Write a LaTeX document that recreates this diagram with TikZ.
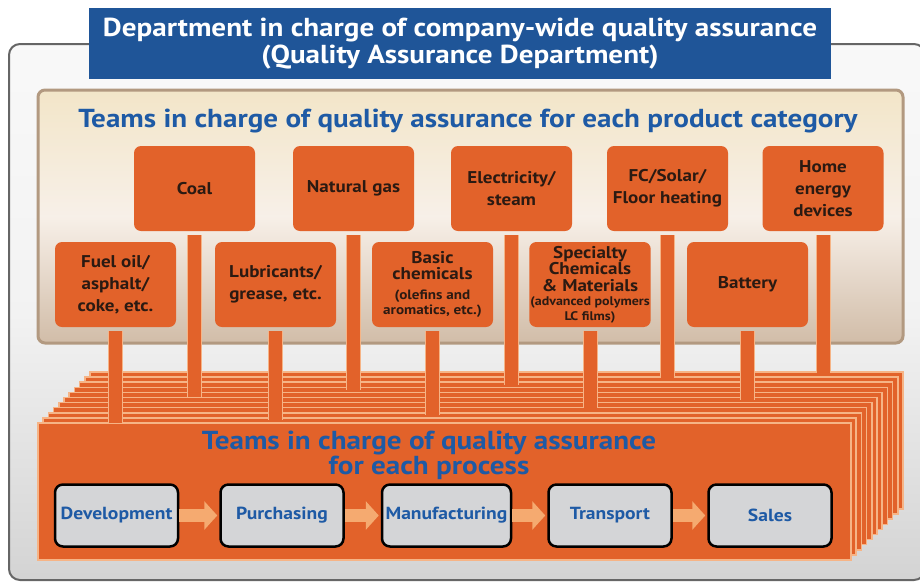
\documentclass[tikz,border=0pt]{standalone}
\usepackage{fontspec}
\setmainfont{PT Sans}[FakeStretch=1.12]
\usetikzlibrary{arrows.meta}
\definecolor{qorange}{HTML}{E2622A}
\definecolor{qpeach}{HTML}{F6B486}
\definecolor{qblue}{HTML}{1F5598}
\definecolor{qtext}{HTML}{1E5AA5}
\definecolor{qdark}{HTML}{2B1A12}
\definecolor{qgray}{HTML}{D4D5D7}
\definecolor{qarrow}{HTML}{F5AA70}
\pgfdeclarelayer{bgzero}
\pgfdeclarelayer{bgone}
\pgfsetlayers{bgzero,bgone,main}
\begin{document}
\begin{tikzpicture}[x=1pt,y=-1pt,
  catbox/.style={fill=qorange, rounded corners=7pt, minimum width=121pt, minimum height=85pt,
    text=qdark, align=center, inner sep=1pt, font=\bfseries\fontsize{17}{22}\selectfont},
  procbox/.style={fill=qgray, draw=black, line width=2.5pt, rounded corners=8pt,
    minimum width=123pt, minimum height=62pt, text=qtext, inner sep=0pt,
    font=\bfseries\fontsize{17.5}{20}\selectfont},
  pillar/.style={draw=qpeach, line width=1pt, double=qorange, double distance=13pt},
  procarrow/.style={draw=qarrow, line width=13pt, shorten >=2pt,
    -{Triangle[length=13pt,width=28pt]}},
  layerbox/.style={fill=qorange, draw=qpeach, line width=1.5pt}]
\useasboundingbox (0,0) rectangle (920,581);

% ---------- background layers ----------
\begin{pgfonlayer}{bgzero}
\fill[white] (0,0) rectangle (920,581);
% outer frame
\path[rounded corners=11pt, draw=black!60, line width=2pt,
  top color=white!95!gray, bottom color=black!17, middle color=white!90!gray]
  (9,44) rectangle (925,580);
% beige panel
\path[rounded corners=7pt, draw=brown!50!gray!80, line width=3pt,
  top color=white!92!yellow!80!brown, bottom color=brown!40!white!80!gray,
  middle color=white!88!brown]
  (38,90) rectangle (903,343);
% stacked process layers
\foreach \i in {10,9,...,0}{
  \path[layerbox] ({38+5.2*\i},{423-5.1*\i}) rectangle ({851+5.2*\i},{560-5.1*\i});
}
\end{pgfonlayer}

% ---------- title ----------
\node[fill=qblue, minimum width=742pt, minimum height=71pt, text=white, align=center,
  font=\bfseries\fontsize{26}{27}\selectfont] (title) at (460,43.5)
  {Department in charge of company-wide quality assurance\\(Quality Assurance Department)};

\node[text=qtext, font=\bfseries\fontsize{26}{28}\selectfont] (cattitle) at (468,121)
  {Teams in charge of quality assurance for each product category};

% ---------- category boxes ----------
\node[catbox] (coal)  at (194.5,188.5) {Coal};
\node[catbox] (gas)   at (353.5,188.5) {Natural gas};
\node[catbox] (elec)  at (511.5,188.5) {Electricity/\\steam};
\node[catbox] (fc)    at (667.5,188.5) {FC/Solar/\\Floor heating};
\node[catbox] (home)  at (823,188.5)   {Home\\energy\\devices};
\node[catbox] (fuel)  at (115.5,284.5) {Fuel oil/\\asphalt/\\coke, etc.};
\node[catbox] (lub)   at (275.5,284.5) {Lubricants/\\grease, etc.};
\node[catbox, font=\bfseries\fontsize{17}{16.5}\selectfont] (basic) at (432.5,284.5)
  {Basic\\chemicals\\[3.5pt]{\fontsize{13.5}{15}\selectfont (olefins and}\\[-1.5pt]{\fontsize{13.5}{15}\selectfont aromatics, etc.)}};
\node[catbox, font=\bfseries\fontsize{17}{16.5}\selectfont] (spec) at (590,284.5)
  {Specialty\\Chemicals\\\& Materials\\[-2pt]{\fontsize{12.5}{14}\selectfont (advanced polymers}\\[-2pt]{\fontsize{12.5}{14}\selectfont LC films)}};
\node[catbox] (batt)  at (747.5,284.5) {Battery};

% pillar ends
\coordinate (fuelend)  at (115.5,423);
\coordinate (coalend)  at (194.5,397);
\coordinate (lubend)   at (275.5,420);
\coordinate (gasend)   at (353.5,390);
\coordinate (basicend) at (432.5,415);
\coordinate (elecend)  at (511.5,385);
\coordinate (specend)  at (590,408);
\coordinate (fcend)    at (667.5,378);
\coordinate (battend)  at (747.5,400);
\coordinate (homeend)  at (823,373);

\begin{pgfonlayer}{bgone}
\foreach \n in {fuel,coal,lub,gas,basic,elec,spec,fc,batt,home}{
  \draw[pillar] ([yshift=-4pt]\n.south) -- (\n end);
}
\end{pgfonlayer}

% ---------- process part ----------
\node[text=qtext, align=center, font=\bfseries\fontsize{26}{25}\selectfont] (proctitle) at (429,455)
  {Teams in charge of quality assurance\\for each process};

\node[procbox] (dev)  at (116.5,515.5) {Development};
\node[procbox] (pur)  at (282,515.5)   {Purchasing};
\node[procbox, minimum width=129pt] (man)  at (446.5,515.5) {Manufacturing};
\node[procbox] (tra)  at (610,515.5)   {Transport};
\node[procbox] (sal)  at (770,515.5)   {Sales};

\draw[procarrow] (dev) -- (pur);
\draw[procarrow] (pur) -- (man);
\draw[procarrow] (man) -- (tra);
\draw[procarrow] (tra) -- (sal);
\end{tikzpicture}
\end{document}
